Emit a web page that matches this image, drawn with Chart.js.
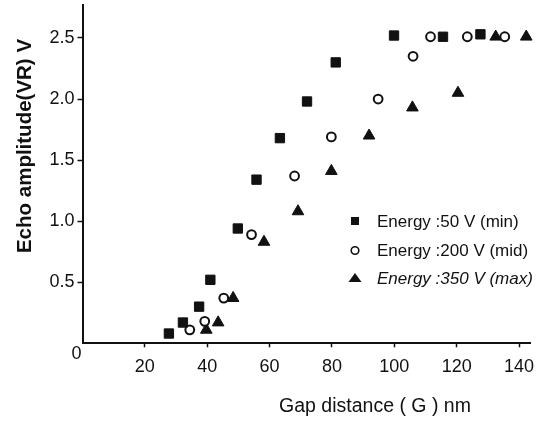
<!DOCTYPE html>
<html>
<head>
<meta charset="utf-8">
<script src="https://cdn.jsdelivr.net/npm/chart.js@4/dist/chart.umd.min.js"></script>
<style>
  html, body { margin: 0; padding: 0; background: #fff; }
  #wrap { width: 540px; height: 426px; position: relative; }
</style>
</head>
<body>
<div id="wrap"><canvas id="statsChart"></canvas></div>
<script>
// gap distance (nm) / echo amplitude (V)
const gapMin = [27.7, 32.2, 37.4, 41.0, 49.8, 55.8, 63.3, 72.0, 81.2, 99.9, 115.6, 127.6];
const ampMin = [0.08, 0.17, 0.30, 0.52, 0.94, 1.34, 1.68, 1.98, 2.30, 2.52, 2.51, 2.53];

const gapMid = [34.4, 39.2, 45.3, 54.2, 68.0, 79.8, 94.8, 106.0, 111.6, 123.4, 135.4];
const ampMid = [0.11, 0.18, 0.37, 0.89, 1.37, 1.69, 2.00, 2.35, 2.51, 2.51, 2.51];

const gapMax = [39.7, 43.5, 48.3, 58.2, 69.1, 79.8, 91.9, 105.8, 120.4, 132.5, 142.3];
const ampMax = [0.11, 0.17, 0.37, 0.83, 1.08, 1.41, 1.70, 1.93, 2.05, 2.51, 2.51];

const seriesLabels = ['Energy :50 V (min)', 'Energy :200 V (mid)', 'Energy :350 V (max)'];
const xTicks = [20, 40, 60, 80, 100, 120, 140];
const yTicks = [0.5, 1.0, 1.5, 2.0, 2.5];
const xTitle = 'Gap distance ( G ) nm';
const yTitle = 'Echo amplitude(VR) V';

const FONT = '"Liberation Sans", Arial, Helvetica, sans-serif';
const INK = '#111';

const pts = (xs, ys) => xs.map((x, i) => ({ x, y: ys[i] }));

// titles, origin label and the inset legend
const decor = {
  id: 'decor',
  afterDraw(chart) {
    const ctx = chart.ctx;
    ctx.save();
    ctx.fillStyle = INK;
    ctx.strokeStyle = INK;

    ctx.font = `18px ${FONT}`;
    ctx.textAlign = 'center';
    ctx.textBaseline = 'middle';
    ctx.fillText('0', 76.5, 354);

    ctx.font = `19.5px ${FONT}`;
    ctx.fillText(xTitle, 375, 407);

    ctx.save();
    ctx.translate(25, 146);
    ctx.rotate(-Math.PI / 2);
    ctx.font = `bold 20.5px ${FONT}`;
    ctx.fillText(yTitle, 0, 0);
    ctx.restore();

    const rows = [227, 255.5, 284];
    const mx = 355, tx = 377;
    ctx.textAlign = 'left';
    ctx.textBaseline = 'alphabetic';
    seriesLabels.forEach((lab, i) => {
      const cy = rows[i] - 6;
      ctx.beginPath();
      if (i === 0) {
        ctx.fillRect(mx - 4, cy - 4, 8, 8);
      } else if (i === 1) {
        ctx.lineWidth = 1.6;
        ctx.arc(mx, cy + 1, 3.8, 0, Math.PI * 2);
        ctx.stroke();
      } else {
        ctx.moveTo(mx, cy - 5);
        ctx.lineTo(mx + 6.5, cy + 4);
        ctx.lineTo(mx - 6.5, cy + 4);
        ctx.closePath();
        ctx.fill();
      }
      ctx.font = (i === 2 ? 'italic ' : '') + `17px ${FONT}`;
      ctx.fillText(lab, tx, rows[i]);
    });
    ctx.restore();
  }
};

new Chart(document.getElementById('statsChart'), {
  type: 'scatter',
  data: {
    datasets: [
      { label: seriesLabels[0], data: pts(gapMin, ampMin), pointStyle: 'rect', pointRadius: 6.6,
        backgroundColor: INK, borderColor: INK, borderWidth: 1, clip: false },
      { label: seriesLabels[1], data: pts(gapMid, ampMid), pointStyle: 'circle', pointRadius: 4.4,
        backgroundColor: '#fff', borderColor: INK, borderWidth: 2, clip: false },
      { label: seriesLabels[2], data: pts(gapMax, ampMax), pointStyle: 'triangle', pointRadius: 6.7,
        backgroundColor: INK, borderColor: INK, borderWidth: 1, clip: false }
    ]
  },
  options: {
    responsive: true,
    maintainAspectRatio: false,
    animation: false,
    layout: { autoPadding: false, padding: { left: 0, right: 10, top: 5, bottom: 0 } },
    plugins: { legend: { display: false }, tooltip: { enabled: false } },
    scales: {
      x: {
        type: 'linear', min: 0, max: 143.5,
        afterFit: (s) => { s.height = 82.7; s.paddingLeft = 0; s.paddingRight = 0; },
        afterBuildTicks: (s) => { s.ticks = xTicks.map((v) => ({ value: v })); },
        ticks: { color: INK, font: { family: FONT, size: 18 }, padding: 9, maxRotation: 0,
          callback: (v) => String(v) },
        grid: { drawOnChartArea: false, color: INK, tickLength: 4, tickWidth: 1.5 },
        border: { color: INK, width: 2 }
      },
      y: {
        min: 0, max: 2.77,
        afterFit: (s) => { s.width = 82.5; s.paddingTop = 0; s.paddingBottom = 0; },
        afterBuildTicks: (s) => { s.ticks = yTicks.map((v) => ({ value: v })); },
        ticks: { color: INK, font: { family: FONT, size: 18 }, padding: 3,
          callback: (v) => Number(v).toFixed(1) },
        grid: { drawOnChartArea: false, color: INK, tickLength: 5, tickWidth: 1.5 },
        border: { color: INK, width: 2 }
      }
    }
  },
  plugins: [decor]
});
</script>
</body>
</html>
